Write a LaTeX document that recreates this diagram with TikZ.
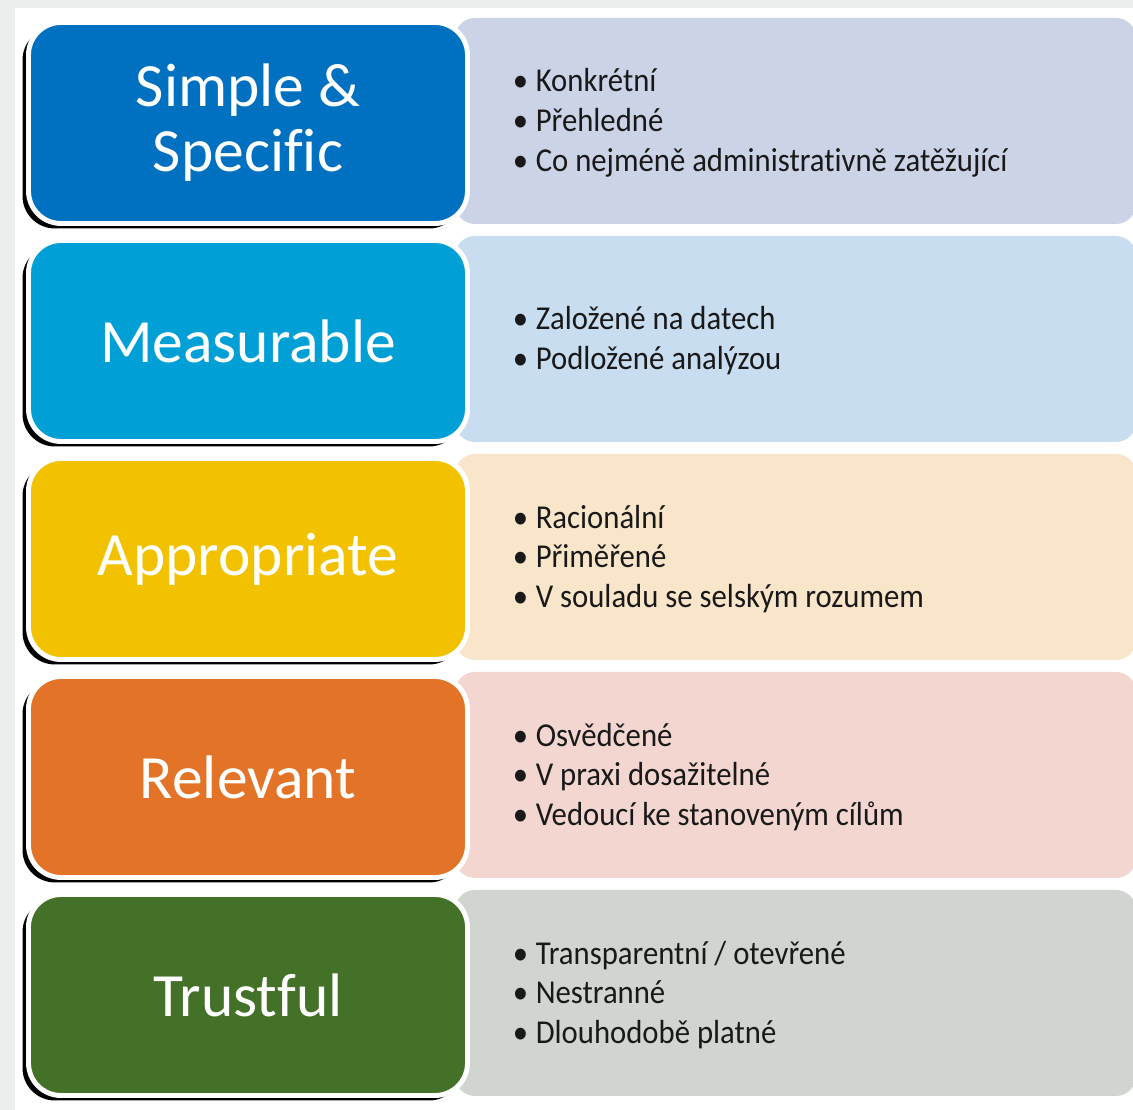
\documentclass[tikz,border=0pt]{standalone}
\usepackage{fontspec}
\setmainfont{Carlito}[RawFeature={-liga,-clig,-dlig,-calt,-rlig}]
\newfontfamily\listfont[FakeStretch=0.92,RawFeature={-liga,-clig,-dlig,-calt,-rlig}]{Carlito}
\definecolor{SpecBlue}{RGB}{0, 112, 192}
\definecolor{MeasCyan}{RGB}{0, 160, 214}
\definecolor{ApprYellow}{RGB}{242, 194, 0}
\definecolor{RelOrange}{RGB}{227, 116, 39}
\definecolor{TrustGreen}{RGB}{67, 113, 39}
\definecolor{SpecPanel}{RGB}{203, 211, 230}
\definecolor{MeasPanel}{RGB}{200, 221, 239}
\definecolor{ApprPanel}{RGB}{249, 230, 202}
\definecolor{RelPanel}{RGB}{242, 214, 207}
\definecolor{TrustPanel}{RGB}{208, 213, 207}
\definecolor{EdgeGray}{RGB}{236, 238, 238}
\usetikzlibrary{positioning, shadows}
\newcommand{\bitem}[1]{\makebox[0.46cm][l]{•}#1}
\newcommand{\nolig}{\kern0pt}

\begin{document}
\begin{tikzpicture}
        % --- Styles ---
        \tikzstyle{titlebox}=[rectangle, rounded corners=0.65cm, draw=white, line width=2.8pt, minimum width=8.78cm, minimum height=4.02cm, text=white, font=\fontsize{35}{37}\selectfont, align=center, drop shadow={shadow xshift=-0.12cm, shadow yshift=-0.1cm, fill=black, opacity=1}]
        \tikzstyle{panel}=[rectangle, rounded corners=0.4cm, minimum width=13.62cm, minimum height=4.12cm, inner sep=0pt]
        \tikzstyle{bullets}=[font=\listfont\fontsize{19}{22.7}\selectfont, align=left, inner sep=0pt, text=black!90]

        \useasboundingbox (0,0) rectangle (22.66,22.2);

        % --- Background ---
        \fill[EdgeGray] (0,0) rectangle (22.66,22.2);
        \fill[white] (0.3,0) rectangle (22.66,22.04);

        % --- 1. Simple & Specific ---
        \node[panel, fill=SpecPanel] (specpanel) at (15.91,19.78) {};
        \node[titlebox, fill=SpecBlue] (specbox) at (4.96,19.74) {Simple \&\\Specif\nolig ic};
        \node[bullets, right=0.85cm of specbox] (speclist) {\bitem{Konkrétní}\\\bitem{Přehledné}\\\bitem{Co nejméně administrat\nolig ivně zatěžující}};

        % --- 2. Measurable ---
        \node[panel, fill=MeasPanel] (measpanel) at (15.91,15.42) {};
        \node[titlebox, fill=MeasCyan] (measbox) at (4.96,15.38) {Measurable};
        \node[bullets, right=0.85cm of measbox] (measlist) {\bitem{Založené na datech}\\\bitem{Podložené analýzou}};

        % --- 3. Appropriate ---
        \node[panel, fill=ApprPanel] (apprpanel) at (15.91,11.06) {};
        \node[titlebox, fill=ApprYellow] (apprbox) at (4.96,11.02) {Appropriate};
        \node[bullets, right=0.85cm of apprbox] (apprlist) {\bitem{Racionální}\\\bitem{Přiměřené}\\\bitem{V souladu se selským rozumem}};

        % --- 4. Relevant ---
        \node[panel, fill=RelPanel] (relpanel) at (15.91,6.70) {};
        \node[titlebox, fill=RelOrange] (relbox) at (4.96,6.66) {Relevant};
        \node[bullets, right=0.85cm of relbox] (rellist) {\bitem{Osvědčené}\\\bitem{V praxi dosažitelné}\\\bitem{Vedoucí ke stanoveným cílům}};

        % --- 5. Trustful ---
        \node[panel, fill=TrustPanel] (trustpanel) at (15.91,2.34) {};
        \node[titlebox, fill=TrustGreen] (trustbox) at (4.96,2.30) {Trust\nolig ful};
        \node[bullets, right=0.85cm of trustbox] (trustlist) {\bitem{Transparentní / otevřené}\\\bitem{Nestranné}\\\bitem{Dlouhodobě platné}};

    \end{tikzpicture}
\end{document}
